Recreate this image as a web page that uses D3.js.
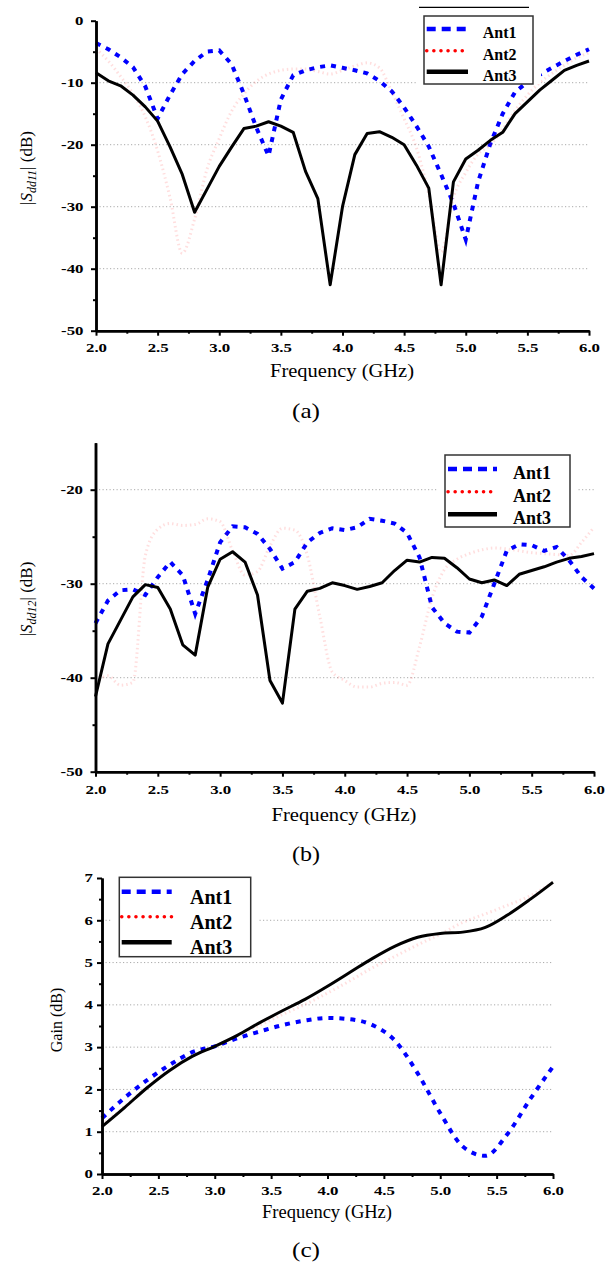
<!DOCTYPE html>
<html>
<head>
<meta charset="utf-8">
<script src="https://cdnjs.cloudflare.com/ajax/libs/d3/7.8.5/d3.min.js"></script>
<style>
  body { margin: 0; background: #fff; }
  svg { display: block; }
  .tick text { font-family: "Liberation Serif", "Times New Roman", serif; font-weight: bold; font-size: 12px; fill: #000; }
  .domain { stroke: #000; stroke-width: 2.5px; }
  .tick line { stroke: #000; stroke-width: 2px; }
</style>
</head>
<body>
<div id="fig"></div>
<script>
// frequency points for the S parameter panels (GHz)
var freqS = [2.0, 2.1, 2.2, 2.3, 2.4, 2.5, 2.6, 2.7, 2.8, 2.9,
             3.0, 3.1, 3.2, 3.3, 3.4, 3.5, 3.6, 3.7, 3.8, 3.9,
             4.0, 4.1, 4.2, 4.3, 4.4, 4.5, 4.6, 4.7, 4.8, 4.9,
             5.0, 5.1, 5.2, 5.3, 5.4, 5.5, 5.6, 5.7, 5.8, 5.9, 6.0];

// (a) |Sdd11| in dB
var s11Ant1 = [-3.6, -4.6, -5.9, -7.5, -10.6, -15.8, -12.0, -8.6, -6.5, -5.0,
               -4.8, -7.0, -11.8, -17.2, -21.8, -12.7, -8.8, -8.0, -7.5, -7.2,
               -7.6, -8.0, -8.5, -9.7, -11.4, -14.0, -17.0, -20.3, -24.8, -29.5,
               -35.3, -26.0, -19.8, -15.0, -11.5, -9.9, -8.7, -7.6, -6.5, -5.5, -4.6];
var s11Ant2 = [-4.5, -6.5, -9.0, -11.8, -15.5, -21.0, -28.5, -37.5, -32.0, -24.0,
               -19.0, -14.6, -11.8, -9.8, -8.6, -8.0, -7.8, -7.8, -8.2, -8.6,
               -8.0, -7.3, -6.8, -7.6, -11.5, -15.8, -20.5, -28.0, -37.3, -28.5,
               -24.5, -21.5, -20.0, -17.5, -14.5, -12.0, -10.0, -8.5, -7.2, -6.0, -5.2];
var s11Ant3 = [-8.4, -9.7, -10.5, -12.0, -13.9, -16.2, -20.3, -24.8, -30.9, -27.2,
               -23.5, -20.4, -17.4, -17.0, -16.3, -17.0, -18.0, -24.3, -28.7, -42.6,
               -30.0, -21.6, -18.2, -17.9, -18.8, -20.0, -23.3, -27.0, -42.6, -26.0,
               -22.3, -20.9, -19.3, -18.0, -15.0, -13.1, -11.2, -9.6, -8.0, -7.2, -6.5];

// (b) |Sdd12| in dB
var s12Ant1 = [-34.2, -31.8, -30.7, -30.6, -31.2, -29.3, -27.7, -29.1, -33.2, -29.6,
               -25.6, -23.9, -24.0, -24.7, -26.3, -28.4, -27.7, -25.6, -24.6, -24.1,
               -24.3, -24.0, -23.1, -23.3, -23.6, -24.6, -27.2, -32.5, -34.2, -35.1,
               -35.2, -33.5, -30.0, -26.5, -25.8, -25.9, -26.5, -26.1, -27.5, -29.3, -30.5];
var s12Ant2 = [-40.5, -39.8, -40.8, -40.5, -27.0, -24.2, -23.6, -23.8, -23.7, -23.1,
               -23.4, -26.5, -29.1, -28.7, -26.0, -24.1, -24.3, -27.0, -33.5, -39.4,
               -40.3, -41.0, -41.0, -40.6, -40.5, -40.8, -36.7, -31.5, -28.5, -27.4,
               -26.8, -26.4, -26.2, -26.3, -26.5, -26.7, -26.8, -26.9, -27.0, -25.6, -24.0];
var s12Ant3 = [-42.0, -36.4, -33.9, -31.4, -30.1, -30.4, -32.7, -36.5, -37.6, -30.4,
               -27.4, -26.6, -27.7, -31.2, -40.3, -42.7, -32.7, -30.8, -30.5, -29.9,
               -30.2, -30.6, -30.3, -29.9, -28.6, -27.5, -27.7, -27.2, -27.3, -28.3,
               -29.5, -29.9, -29.6, -30.2, -29.0, -28.6, -28.2, -27.7, -27.3, -27.1, -26.8];

// (c) gain in dB
var freqGain = [2.0, 2.2, 2.4, 2.6, 2.8, 3.0, 3.2, 3.4, 3.6, 3.8, 4.0,
                4.2, 4.4, 4.6, 4.8, 5.0, 5.2, 5.4, 5.6, 5.8, 6.0];
var gainAnt1 = [1.32, 1.80, 2.22, 2.58, 2.88, 3.02, 3.21, 3.37, 3.52, 3.63, 3.69,
                3.66, 3.52, 3.15, 2.38, 1.44, 0.65, 0.43, 0.96, 1.78, 2.54];
var gainAnt2 = [1.15, 1.60, 2.06, 2.47, 2.79, 3.02, 3.27, 3.52, 3.77, 4.01, 4.28,
                4.57, 4.88, 5.15, 5.42, 5.67, 5.95, 6.15, 6.36, 6.58, 6.90];
var gainAnt3 = [1.12, 1.57, 2.04, 2.45, 2.78, 3.02, 3.28, 3.58, 3.86, 4.13, 4.44,
                4.77, 5.10, 5.39, 5.60, 5.69, 5.72, 5.83, 6.13, 6.50, 6.90];

// ticks
var xTicks = [2.0, 2.5, 3.0, 3.5, 4.0, 4.5, 5.0, 5.5, 6.0];
var xTickLabels = ["2.0", "2.5", "3.0", "3.5", "4.0", "4.5", "5.0", "5.5", "6.0"];
var xMinor = [2.25, 2.75, 3.25, 3.75, 4.25, 4.75, 5.25, 5.75];
var s11Ticks = [0, -10, -20, -30, -40, -50];
var s11Minor = [-5, -15, -25, -35, -45];
var s12Ticks = [-20, -30, -40, -50];
var s12Minor = [-25, -35, -45];
var gainTicks = [0, 1, 2, 3, 4, 5, 6, 7];
var gainMinor = [0.5, 1.5, 2.5, 3.5, 4.5, 5.5, 6.5];

var seriesNames = ["Ant1", "Ant2", "Ant3"];

var serif = '"Liberation Serif", "Times New Roman", serif';

var svg = d3.select("#fig").append("svg")
    .attr("width", 609)
    .attr("height", 1266);

var panels = [
    {
        left: 96, right: 589, top: 20.7, bottom: 330.7,
        yDomain: [-50, 0], yTicks: s11Ticks, yMinor: s11Minor, grid: [-10, -20, -30, -40],
        series: [s11Ant1, s11Ant2, s11Ant3], freq: freqS, smooth: false,
        xPad: 8, yPad: 7.5,
        ytitle: "11", ytitleX: 26, ytitleY: 168,
        xtitleX: 342, xtitleY: 377, xtitleW: 144,
        tag: "(a)", tagY: 418,
        legend: {x: 424, y: 16, w: 109, h: 68, rows: [29, 50.7, 71.7], sx0: 426.7, sx1: 468, tx: 482.7, size: 16, off: 9}
    },
    {
        left: 95.5, right: 594, top: 442.7, bottom: 771.7,
        yDomain: [-50, -15], yTicks: s12Ticks, yMinor: s12Minor, grid: [-20, -30, -40],
        series: [s12Ant1, s12Ant2, s12Ant3], freq: freqS, smooth: false,
        xPad: 8.5, yPad: 7.5,
        ytitle: "12", ytitleX: 26, ytitleY: 599,
        xtitleX: 344, xtitleY: 821, xtitleW: 145,
        tag: "(b)", tagY: 861,
        legend: {x: 445, y: 455, w: 125, h: 72, rows: [469, 491.7, 514.3], sx0: 448, sx1: 497, tx: 513, size: 18, off: 10}
    },
    {
        left: 102, right: 553, top: 878, bottom: 1174,
        yDomain: [0, 7], yTicks: gainTicks, yMinor: gainMinor, grid: [1, 2, 3, 4, 5, 6],
        series: [gainAnt1, gainAnt2, gainAnt3], freq: freqGain, smooth: true,
        xPad: 7, yPad: 4,
        ytitle: null, ytitleX: 56, ytitleY: 1020,
        xtitleX: 327, xtitleY: 1218, xtitleW: 130,
        tag: "(c)", tagY: 1257,
        legend: {x: 119.3, y: 877.3, w: 131.4, h: 79.4, rows: [891.7, 916.7, 942.3], sx0: 121.7, sx1: 171.7, tx: 190, size: 20, off: 12}
    }
];

panels.forEach(drawPanel);

// the source figure is stretched sideways, so widen the tick numbers to match
svg.selectAll(".tick text").each(function() {
    var w = this.getComputedTextLength();
    if (w > 0) d3.select(this).attr("textLength", w * 1.4).attr("lengthAdjust", "spacingAndGlyphs");
});

// short stray rule above the first legend
svg.append("line")
    .attr("x1", 419).attr("x2", 529)
    .attr("y1", 7.3).attr("y2", 7.3)
    .attr("stroke", "#000").attr("stroke-width", 1.2);

function drawPanel(p) {

    var x = d3.scaleLinear().domain([2, 6]).range([p.left, p.right]);
    var y = d3.scaleLinear().domain(p.yDomain).range([p.bottom, p.top]);

    // dotted grid
    svg.append("g").selectAll("line").data(p.grid)
        .enter().append("line")
        .attr("x1", p.left).attr("x2", p.right)
        .attr("y1", function(d) { return y(d); })
        .attr("y2", function(d) { return y(d); })
        .attr("stroke", "#aaa")
        .attr("stroke-width", 1)
        .attr("stroke-dasharray", "1.2,2.3");

    // curves
    var line = d3.line()
        .x(function(d, i) { return x(p.freq[i]); })
        .y(function(d) { return y(d); })
        .curve(p.smooth ? d3.curveMonotoneX : d3.curveLinear);

    var line2 = d3.line()
        .x(function(d, i) { return x(p.freq[i]); })
        .y(function(d) { return y(d); })
        .curve(d3.curveMonotoneX);

    svg.append("path").datum(p.series[0])
        .attr("d", line)
        .attr("fill", "none")
        .attr("stroke", "#0000ff")
        .attr("stroke-width", 4)
        .attr("stroke-dasharray", "5,6");

    svg.append("path").datum(p.series[1])
        .attr("d", line2)
        .attr("fill", "none")
        .attr("stroke", "#ff0000")
        .attr("stroke-opacity", 0.13)
        .attr("stroke-width", 3)
        .attr("stroke-dasharray", "1.5,3");

    svg.append("path").datum(p.series[2])
        .attr("d", line)
        .attr("fill", "none")
        .attr("stroke", "#000")
        .attr("stroke-width", 3)
        .attr("stroke-linejoin", "round");

    // axes: minor first, then major with labels
    svg.append("g")
        .attr("transform", "translate(0," + p.bottom + ")")
        .call(d3.axisBottom(x).tickValues(xMinor).tickSize(3).tickSizeOuter(0).tickFormat(""));
    svg.append("g")
        .attr("transform", "translate(0," + p.bottom + ")")
        .call(d3.axisBottom(x).tickValues(xTicks).tickSize(5).tickSizeOuter(0).tickPadding(p.xPad)
            .tickFormat(function(d, i) { return xTickLabels[i]; }));

    svg.append("g")
        .attr("transform", "translate(" + p.left + ",0)")
        .call(d3.axisLeft(y).tickValues(p.yMinor).tickSize(3).tickSizeOuter(0).tickFormat(""));
    svg.append("g")
        .attr("transform", "translate(" + p.left + ",0)")
        .call(d3.axisLeft(y).tickValues(p.yTicks).tickSize(5).tickSizeOuter(0).tickPadding(p.yPad)
            .tickFormat(function(d) { return d; }));

    // axis titles
    svg.append("text")
        .attr("x", p.xtitleX).attr("y", p.xtitleY)
        .attr("text-anchor", "middle")
        .attr("textLength", p.xtitleW)
        .attr("lengthAdjust", "spacingAndGlyphs")
        .style("font-family", serif)
        .style("font-size", "18px")
        .text("Frequency (GHz)");

    var yt = svg.append("text")
        .attr("transform", "translate(" + (p.ytitleX + 6) + "," + p.ytitleY + ") rotate(-90)")
        .attr("text-anchor", "middle")
        .style("font-family", serif)
        .style("font-size", "17px");
    if (p.ytitle) {
        yt.append("tspan").text("|");
        yt.append("tspan").style("font-style", "italic").text("S");
        yt.append("tspan").style("font-style", "italic").style("font-size", "12px").attr("dy", 4).text("dd" + p.ytitle);
        yt.append("tspan").attr("dy", -4).text("| (dB)");
    } else {
        yt.style("font-size", "16px").text("Gain (dB)");
    }

    svg.append("text")
        .attr("x", 306).attr("y", p.tagY)
        .attr("text-anchor", "middle")
        .attr("textLength", 28)
        .attr("lengthAdjust", "spacingAndGlyphs")
        .style("font-family", serif)
        .style("font-size", "21px")
        .text(p.tag);

    drawLegend(p.legend);
}

function drawLegend(L) {
    // white backing hides the grid behind the box
    svg.append("rect")
        .attr("x", L.x - 8).attr("y", L.y)
        .attr("width", L.w + 16).attr("height", L.h)
        .attr("fill", "#fff");
    svg.append("rect")
        .attr("x", L.x).attr("y", L.y)
        .attr("width", L.w).attr("height", L.h)
        .attr("fill", "none")
        .attr("stroke", "#333")
        .attr("stroke-width", 1.5);

    var styles = [
        {stroke: "#0000ff", dash: "9,6", cap: "butt"},
        {stroke: "#ff0000", dash: "0.1,7", cap: "round"},
        {stroke: "#000", dash: null, cap: "butt"}
    ];

    for (i = 0; i < seriesNames.length; i++) {
        svg.append("line")
            .attr("x1", L.sx0).attr("x2", L.sx1)
            .attr("y1", L.rows[i]).attr("y2", L.rows[i])
            .attr("stroke", styles[i].stroke)
            .attr("stroke-width", i == 1 ? 3.5 : 4.5)
            .attr("stroke-linecap", styles[i].cap)
            .attr("stroke-dasharray", styles[i].dash);

        svg.append("text")
            .attr("x", L.tx).attr("y", L.rows[i] + L.off)
            .style("font-family", serif)
            .style("font-weight", "bold")
            .style("font-size", L.size + "px")
            .text(seriesNames[i]);
    }
}
</script>
</body>
</html>
